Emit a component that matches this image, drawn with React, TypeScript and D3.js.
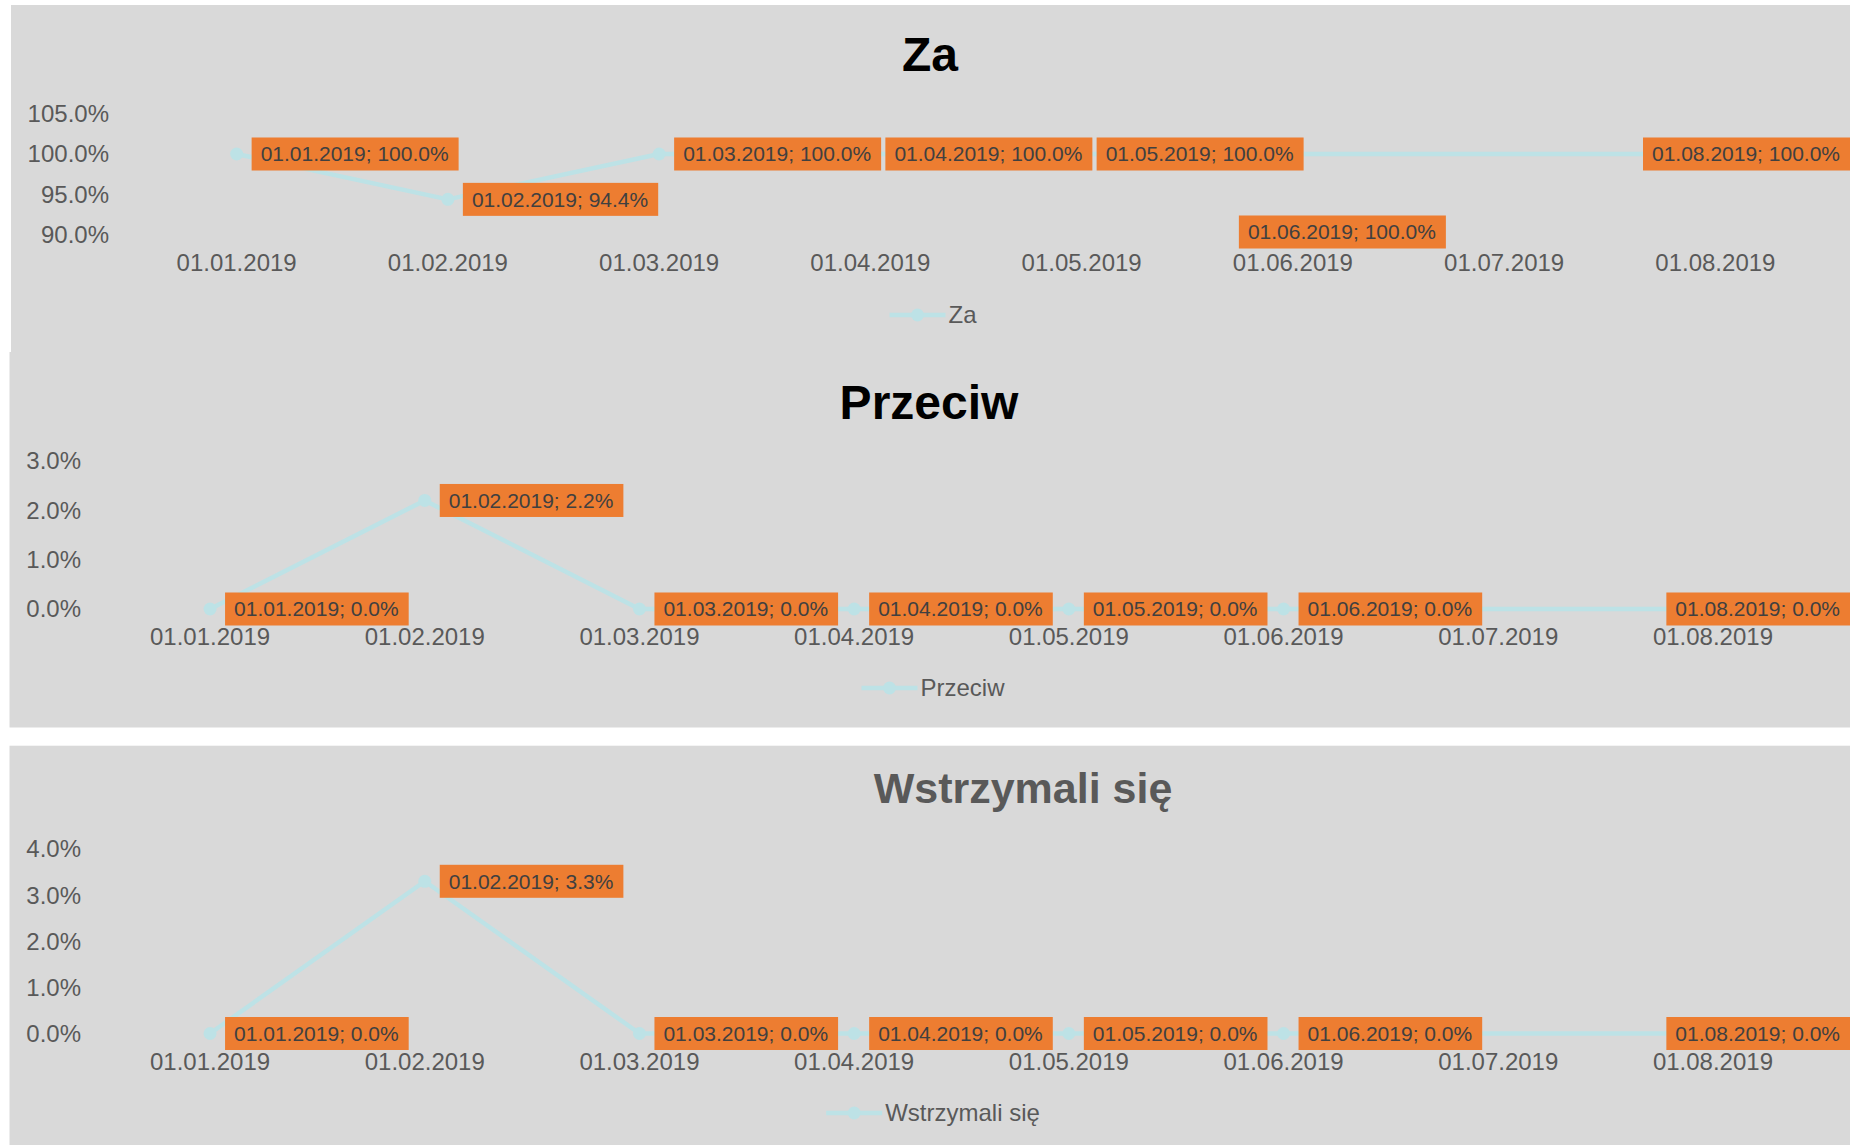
import React from "react";
import * as d3 from "d3";

// ---------- DATA ----------
const dates = [
  "01.01.2019",
  "01.02.2019",
  "01.03.2019",
  "01.04.2019",
  "01.05.2019",
  "01.06.2019",
  "01.07.2019",
  "01.08.2019",
];
const zaValues: (number | null)[] = [1.0, 0.944, 1.0, 1.0, 1.0, 1.0, null, 1.0];
const przeciwValues: (number | null)[] = [0.0, 0.022, 0.0, 0.0, 0.0, 0.0, null, 0.0];
const wstrzymaliValues: (number | null)[] = [0.0, 0.033, 0.0, 0.0, 0.0, 0.0, null, 0.0];

const zaTicks = [0.9, 0.95, 1.0, 1.05];
const przeciwTicks = [0, 0.01, 0.02, 0.03];
const wstrzymaliTicks = [0, 0.01, 0.02, 0.03, 0.04];

const titles = ["Za", "Przeciw", "Wstrzymali się"];

// ---------- LAYOUT / STYLE ----------
const W = 1850;
const H = 1145;
const FONT = "'Liberation Sans', Arial, Helvetica, sans-serif";
const BG = "#D9D9D9";
const LINE = "#BDE2E6";
const ORANGE = "#ED7D31";
const TICK = "#595959";
const LABEL_TEXT = "#404040";

type Panel = {
  title: string;
  values: (number | null)[];
  ticks: number[];
  rect: [number, number, number, number];
  titleX: number;
  titleY: number;
  titleSize: number;
  titleColor: string;
  yDomain: [number, number];
  yRange: [number, number];
  xRange: [number, number];
  yLabelRight: number;
  xLabelY: number;
  legendY: number;
  labelOverrides: Record<number, { dx: number; dy: number }>;
};

const panels: Panel[] = [
  {
    title: titles[0],
    values: zaValues,
    ticks: zaTicks,
    rect: [11, 5, W - 11, 347],
    titleX: 930,
    titleY: 70.7,
    titleSize: 48,
    titleColor: "#000000",
    yDomain: [0.9, 1.05],
    yRange: [235, 113.5],
    xRange: [131, 1821],
    yLabelRight: 109,
    xLabelY: 263,
    legendY: 315,
    labelOverrides: { 5: { dx: -54, dy: 78 } },
  },
  {
    title: titles[1],
    values: przeciwValues,
    ticks: przeciwTicks,
    rect: [9.5, 352, W - 9.5, 375.5],
    titleX: 929,
    titleY: 418.5,
    titleSize: 48,
    titleColor: "#000000",
    yDomain: [0, 0.03],
    yRange: [609, 461],
    xRange: [102.7, 1820.3],
    yLabelRight: 81,
    xLabelY: 637,
    legendY: 688,
    labelOverrides: {},
  },
  {
    title: titles[2],
    values: wstrzymaliValues,
    ticks: wstrzymaliTicks,
    rect: [9.5, 745.7, W - 9.5, H - 745.7],
    titleX: 1023,
    titleY: 803,
    titleSize: 43,
    titleColor: "#595959",
    yDomain: [0, 0.04],
    yRange: [1033.5, 849],
    xRange: [102.7, 1820.3],
    yLabelRight: 81,
    xLabelY: 1061.7,
    legendY: 1113,
    labelOverrides: {},
  },
];

let ctx: CanvasRenderingContext2D | null = null;
function textWidth(s: string, size: number): number {
  if (!ctx) {
    const c = document.createElement("canvas");
    ctx = c.getContext("2d");
  }
  if (!ctx) return s.length * size * 0.55;
  ctx.font = `${size}px 'Liberation Sans', Arial, sans-serif`;
  return ctx.measureText(s).width;
}

const pct = d3.format(".1%");

function ChartPanel({ p }: { p: Panel }) {
  const x = d3.scaleBand<string>().domain(dates).range(p.xRange).padding(0);
  const y = d3.scaleLinear().domain(p.yDomain).range(p.yRange);
  const cx = (d: string) => (x(d) as number) + x.bandwidth() / 2;

  const pts = dates
    .map((d, i) => ({ d, i, v: p.values[i] }))
    .filter((o) => o.v !== null) as { d: string; i: number; v: number }[];

  const line = d3
    .line<{ d: string; v: number }>()
    .x((o) => cx(o.d))
    .y((o) => y(o.v));

  const tickSize = 24;
  const labelSize = 21;
  const legendText = p.title;
  const legendW = 59 + textWidth(legendText, tickSize);
  const legendX0 = 933 - legendW / 2;

  return (
    <g>
      <rect x={p.rect[0]} y={p.rect[1]} width={p.rect[2]} height={p.rect[3]} fill={BG} />
      <text
        x={p.titleX}
        y={p.titleY}
        textAnchor="middle"
        fontFamily={FONT}
        fontWeight="bold"
        fontSize={p.titleSize}
        fill={p.titleColor}
      >
        {p.title}
      </text>
      {/* y ticks */}
      {p.ticks.map((t) => (
        <text
          key={"yt" + t}
          x={p.yLabelRight}
          y={y(t) + tickSize * 0.35}
          textAnchor="end"
          fontFamily={FONT}
          fontSize={tickSize}
          fill={TICK}
        >
          {pct(t)}
        </text>
      ))}
      {/* x ticks */}
      {dates.map((d) => (
        <text
          key={"xt" + d}
          x={cx(d)}
          y={p.xLabelY + tickSize * 0.35}
          textAnchor="middle"
          fontFamily={FONT}
          fontSize={tickSize}
          fill={TICK}
        >
          {d}
        </text>
      ))}
      {/* line */}
      <path d={line(pts) || ""} fill="none" stroke={LINE} strokeWidth={4.5} strokeLinejoin="round" />
      {pts.map((o) => (
        <circle key={"m" + o.i} cx={cx(o.d)} cy={y(o.v)} r={6.5} fill={LINE} />
      ))}
      {/* data labels */}
      {pts.map((o) => {
        const txt = `${o.d}; ${pct(o.v)}`;
        const tw = textWidth(txt, labelSize);
        const bw = tw + 19;
        const bh = 33;
        const ov = p.labelOverrides[o.i];
        let bx = cx(o.d) + 15;
        let cy = y(o.v);
        if (ov) {
          bx = cx(o.d) + ov.dx;
          cy = y(o.v) + ov.dy;
        }
        if (bx + bw > W) bx = W - bw;
        return (
          <g key={"l" + o.i}>
            <rect x={bx} y={cy - bh / 2} width={bw} height={bh} fill={ORANGE} />
            <text
              x={bx + 9}
              y={cy + labelSize * 0.35}
              fontFamily={FONT}
              fontSize={labelSize}
              fill={LABEL_TEXT}
            >
              {txt}
            </text>
          </g>
        );
      })}
      {/* legend */}
      <line
        x1={legendX0}
        x2={legendX0 + 56}
        y1={p.legendY}
        y2={p.legendY}
        stroke={LINE}
        strokeWidth={4.5}
      />
      <circle cx={legendX0 + 28} cy={p.legendY} r={6.5} fill={LINE} />
      <text
        x={legendX0 + 59}
        y={p.legendY + tickSize * 0.35}
        fontFamily={FONT}
        fontSize={tickSize}
        fill={TICK}
      >
        {legendText}
      </text>
    </g>
  );
}

export default function App() {
  return (
    <svg
      width={W}
      height={H}
      viewBox={`0 0 ${W} ${H}`}
      style={{ position: "absolute", left: 0, top: 0, background: "#FFFFFF" }}
    >
      <rect x={0} y={0} width={W} height={H} fill="#FFFFFF" />
      {panels.map((p) => (
        <ChartPanel key={p.title} p={p} />
      ))}
    </svg>
  );
}
